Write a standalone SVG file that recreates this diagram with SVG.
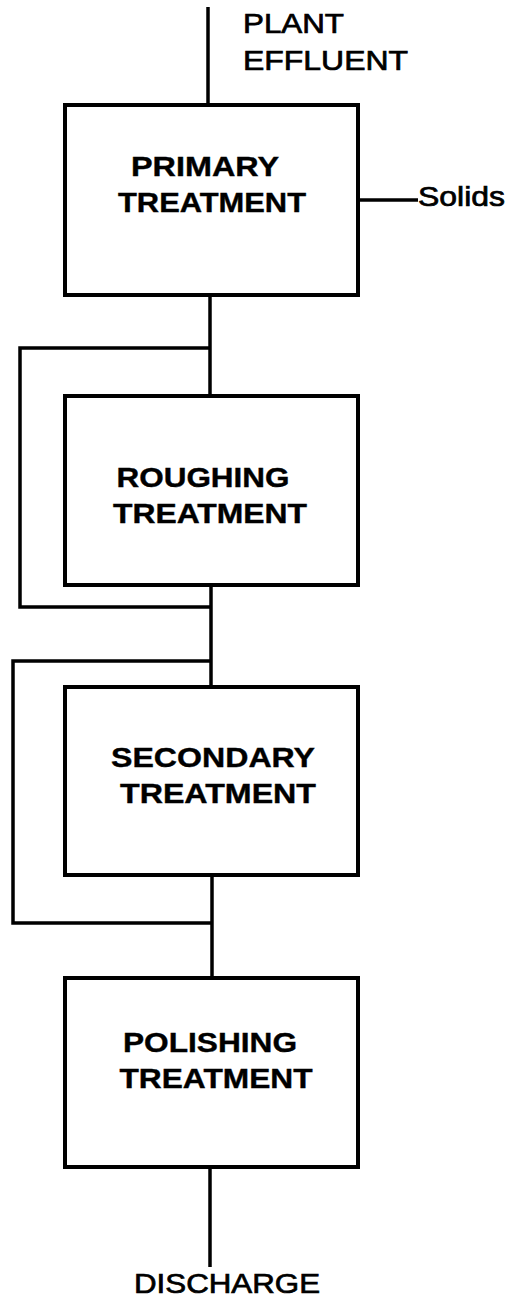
<svg xmlns="http://www.w3.org/2000/svg" width="525" height="1299" viewBox="0 0 525 1299">
<style>
.box{fill:#fff;stroke:#000;stroke-width:4}
.ln{fill:none;stroke:#000;stroke-width:3.5;stroke-linejoin:miter;stroke-linecap:butt}
.lb{font-family:"Liberation Sans",Arial,sans-serif;font-weight:bold;font-size:28px;fill:#000;stroke:#000;stroke-width:0.4}
.tx{font-family:"Liberation Sans",Arial,sans-serif;font-size:27px;fill:#000;stroke:#000;stroke-width:0.7}
</style>
<rect width="525" height="1299" fill="#fff"/>
<g id="connectors">
<line class="ln" x1="208" y1="7" x2="208" y2="105"/>
<line class="ln" x1="359" y1="200" x2="418" y2="200"/>
<line class="ln" x1="210" y1="296" x2="210" y2="396"/>
<polyline class="ln" points="210,348 20,348 20,607 211,607"/>
<line class="ln" x1="211" y1="586" x2="211" y2="687"/>
<polyline class="ln" points="211,661 13,661 13,923 212,923"/>
<line class="ln" x1="212" y1="876" x2="212" y2="978"/>
<line class="ln" x1="210" y1="1168" x2="210" y2="1267"/>
</g>
<g id="plant-effluent">
<text class="tx" x="243" y="33" textLength="101" lengthAdjust="spacingAndGlyphs">PLANT</text>
<text class="tx" x="243" y="70" textLength="165" lengthAdjust="spacingAndGlyphs">EFFLUENT</text>
</g>
<g id="primary">
<rect class="box" x="65" y="105" width="293" height="190"/>
<text class="lb" x="205" y="176" text-anchor="middle" textLength="148" lengthAdjust="spacingAndGlyphs">PRIMARY</text>
<text class="lb" x="212" y="212" text-anchor="middle" textLength="188" lengthAdjust="spacingAndGlyphs">TREATMENT</text>
</g>
<g id="solids">
<text class="tx" x="418" y="206" textLength="87" lengthAdjust="spacingAndGlyphs">Solids</text>
</g>
<g id="roughing">
<rect class="box" x="65" y="396" width="293" height="189"/>
<text class="lb" x="203" y="487" text-anchor="middle" textLength="173" lengthAdjust="spacingAndGlyphs">ROUGHING</text>
<text class="lb" x="210" y="523" text-anchor="middle" textLength="194" lengthAdjust="spacingAndGlyphs">TREATMENT</text>
</g>
<g id="secondary">
<rect class="box" x="65" y="687" width="293" height="188"/>
<text class="lb" x="213" y="767" text-anchor="middle" textLength="204" lengthAdjust="spacingAndGlyphs">SECONDARY</text>
<text class="lb" x="218" y="803" text-anchor="middle" textLength="196" lengthAdjust="spacingAndGlyphs">TREATMENT</text>
</g>
<g id="polishing">
<rect class="box" x="65" y="978" width="293" height="189"/>
<text class="lb" x="210" y="1052" text-anchor="middle" textLength="174" lengthAdjust="spacingAndGlyphs">POLISHING</text>
<text class="lb" x="216" y="1088" text-anchor="middle" textLength="193" lengthAdjust="spacingAndGlyphs">TREATMENT</text>
</g>
<g id="discharge">
<text class="tx" x="227" y="1293" text-anchor="middle" textLength="186" lengthAdjust="spacingAndGlyphs">DISCHARGE</text>
</g>
</svg>
